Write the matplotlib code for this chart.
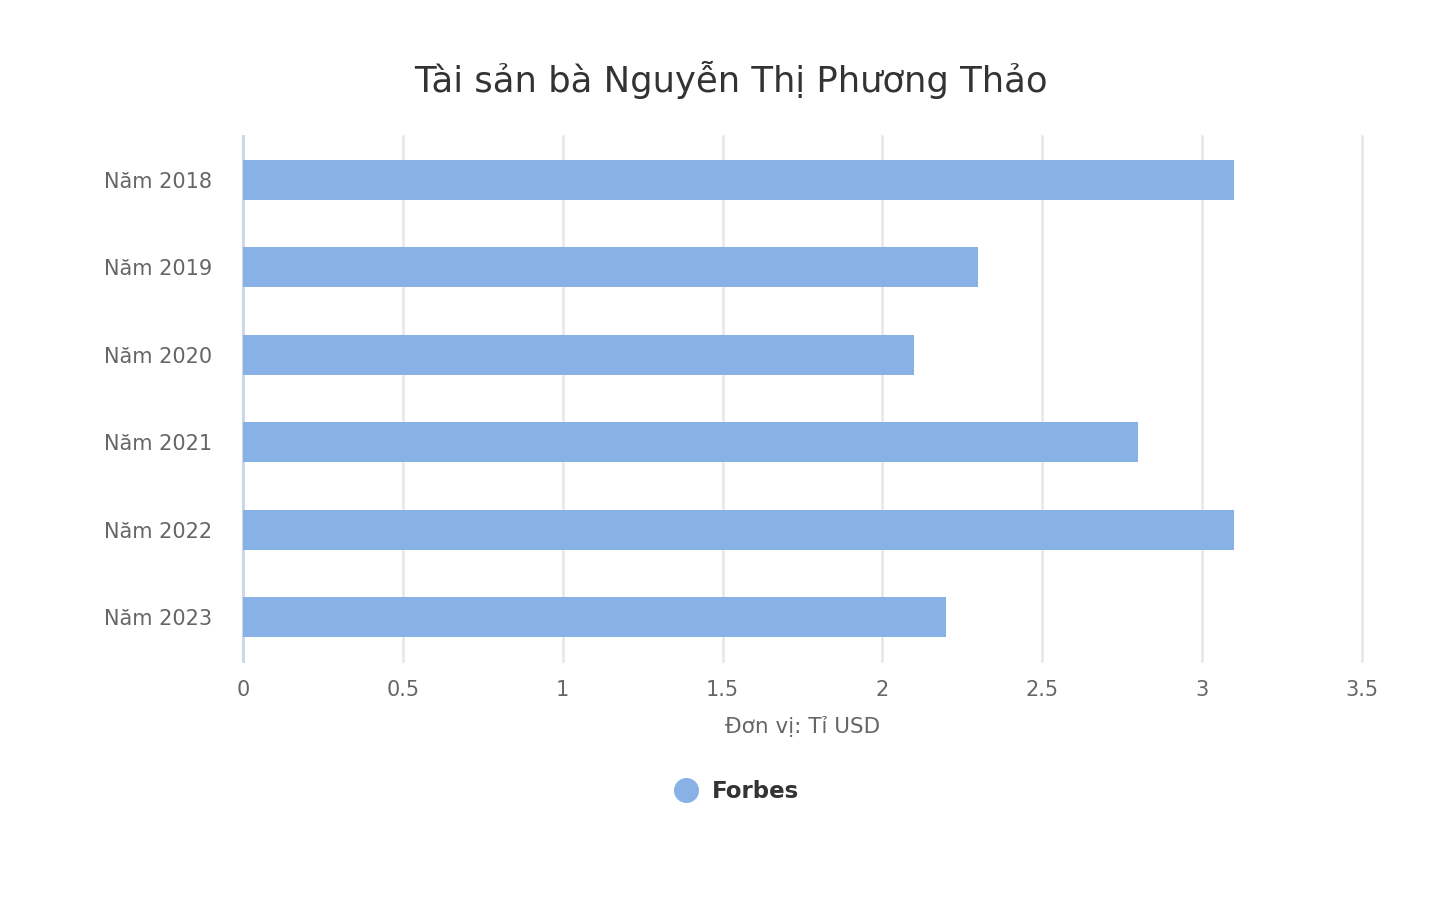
import matplotlib
matplotlib.use("Agg")
import matplotlib.pyplot as plt

# dữ liệu
years = ["Năm 2018", "Năm 2019", "Năm 2020", "Năm 2021", "Năm 2022", "Năm 2023"]
forbes = [3.1, 2.3, 2.1, 2.8, 3.1, 2.2]
x_ticks = [0, 0.5, 1, 1.5, 2, 2.5, 3, 3.5]
x_tick_labels = ["0", "0.5", "1", "1.5", "2", "2.5", "3", "3.5"]

bar_color = "#88b2e5"
W, H = 1456, 916

plt.rcParams['font.family'] = ['DejaVu Sans']

fig = plt.figure(figsize=(W / 100, H / 100), dpi=100)
ax = fig.add_axes([243 / W, 1 - 661 / H, (1362 - 243) / W, (661 - 136) / H])

ypos = list(range(len(years)))
ax.barh(ypos, forbes, height=0.46, color=bar_color, zorder=3)
ax.set_ylim(len(years) - 0.5, -0.5)
ax.set_xlim(0, 3.5)

ax.set_xticks(x_ticks)
ax.set_xticklabels(x_tick_labels)
ax.set_yticks(ypos)
ax.set_yticklabels(years)
ax.tick_params(axis='both', length=0, labelsize=15, labelcolor="#666666")
ax.tick_params(axis='x', pad=14)
ax.tick_params(axis='y', pad=22)

ax.grid(axis='x', color="#e6e6e6", linewidth=1.8, zorder=0)
for gl in ax.get_xgridlines():
    gl.set_clip_on(False)
for s in ['top', 'right', 'bottom']:
    ax.spines[s].set_visible(False)
ax.spines['left'].set_color("#ccd6eb")
ax.spines['left'].set_linewidth(2)

ax.set_xlabel("Đơn vị: Tỉ USD", fontsize=15.5, color="#666666", labelpad=11)

fig.text(731 / W, 1 - 80 / H, "Tài sản bà Nguyễn Thị Phương Thảo",
         ha='center', va='center', fontsize=25.5, color="#333333")

# chú thích
fig.lines.append(plt.Line2D([686 / W], [1 - 790 / H], marker='o', markersize=17,
                            color=bar_color, transform=fig.transFigure))
fig.text(712 / W, 1 - 791 / H, "Forbes", ha='left', va='center',
         fontsize=16.5, fontweight='bold', color="#333333")

fig.savefig("out.png", dpi=100)
